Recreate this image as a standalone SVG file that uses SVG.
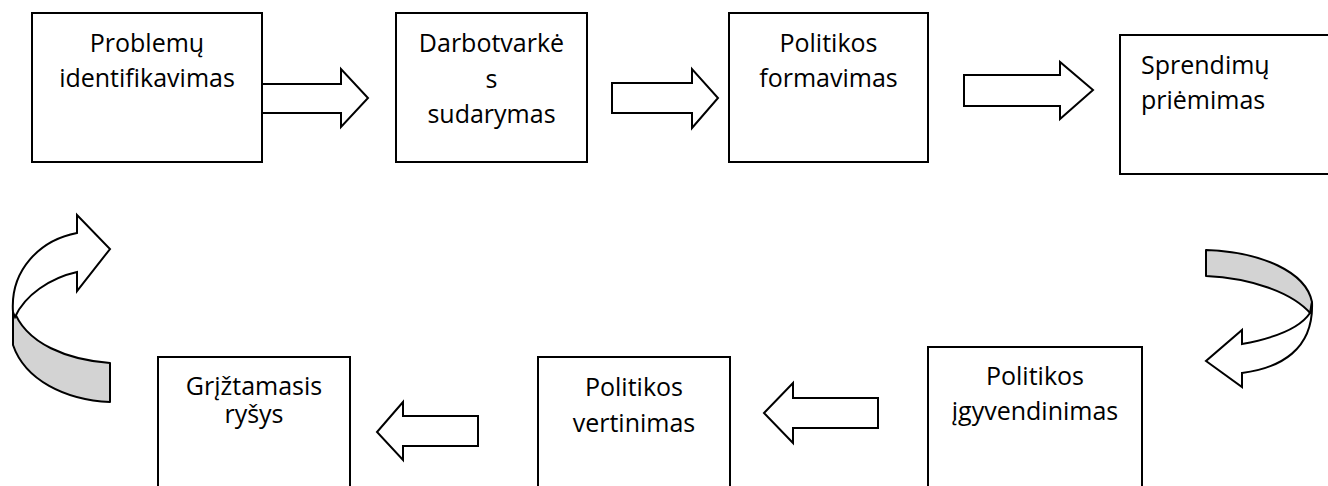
<svg xmlns="http://www.w3.org/2000/svg" width="1328" height="486" viewBox="0 0 1328 486">
<style>
.box{fill:#fff;stroke:#000;stroke-width:2}
.arr{fill:#fff;stroke:#000;stroke-width:2;stroke-linejoin:miter}
.band{fill:#d3d3d3;stroke:#000;stroke-width:2;stroke-linejoin:round}
.curv{fill:#fff;stroke:#000;stroke-width:2;stroke-linejoin:miter}
text{font-family:"Open Sans","Liberation Sans",sans-serif;font-size:25px;fill:#000}
.c{text-anchor:middle}
</style>
<rect width="1328" height="486" fill="#fff"/>
<g id="n1"><rect class="box" x="32" y="13" width="230" height="149"/><text class="c" x="147" y="52">Problemų</text><text class="c" x="147" y="87">identifikavimas</text></g>
<g id="n2"><rect class="box" x="396" y="13" width="191" height="149"/><text class="c" x="491.5" y="52">Darbotvarkė</text><text class="c" x="491.5" y="88">s</text><text class="c" x="491.5" y="123">sudarymas</text></g>
<g id="n3"><rect class="box" x="729" y="13" width="199" height="149"/><text class="c" x="828.5" y="52">Politikos</text><text class="c" x="828.5" y="87">formavimas</text></g>
<g id="n4"><rect class="box" x="1120" y="35" width="212" height="139"/><text x="1141" y="74">Sprendimų</text><text x="1141" y="109">priėmimas</text></g>
<g id="n5"><rect class="box" x="928" y="347" width="214" height="145"/><text class="c" x="1035" y="385">Politikos</text><text class="c" x="1035" y="420">įgyvendinimas</text></g>
<g id="n6"><rect class="box" x="538" y="357" width="192" height="135"/><text class="c" x="634" y="396">Politikos</text><text class="c" x="634" y="432">vertinimas</text></g>
<g id="n7"><rect class="box" x="158" y="357" width="192" height="135"/><text class="c" x="254" y="395">Grįžtamasis</text><text class="c" x="254" y="423">ryšys</text></g>
<g id="connectors">
<path class="arr" d="M262,84 L341,84 L341,69 L368,98 L341,127 L341,113 L262,113 Z"/>
<path class="arr" d="M612,83 L692,83 L692,69 L718,98 L692,128 L692,113 L612,113 Z"/>
<path class="arr" d="M964,75 L1060,75 L1060,62 L1093,90 L1060,119 L1060,106 L964,106 Z"/>
<path class="band" d="M1206,250 C1262,252 1306,272 1312,302 L1311,314 C1292,292 1250,278 1206,276 Z"/>
<path class="curv" d="M1312,302 C1314,350 1280,368 1242,373 L1242,387 L1206,361 L1242,330 L1242,344 C1275,338 1300,328 1310,313 Z"/>
<path class="arr" d="M878,398 L793,398 L793,383 L764,413 L793,443 L793,428 L878,428 Z"/>
<path class="arr" d="M478,416 L403,416 L403,402 L377,432 L403,460 L403,446 L478,446 Z"/>
<path class="band" d="M110,363 C70,360 25,345 13,308 L13,345 C25,380 65,400 110,402 Z"/>
<path class="curv" d="M13,312 C10,270 40,240 77,233 L77,215 L110,249 L77,291 L77,272 C50,278 25,295 15,317 Z"/>
</g>
</svg>
